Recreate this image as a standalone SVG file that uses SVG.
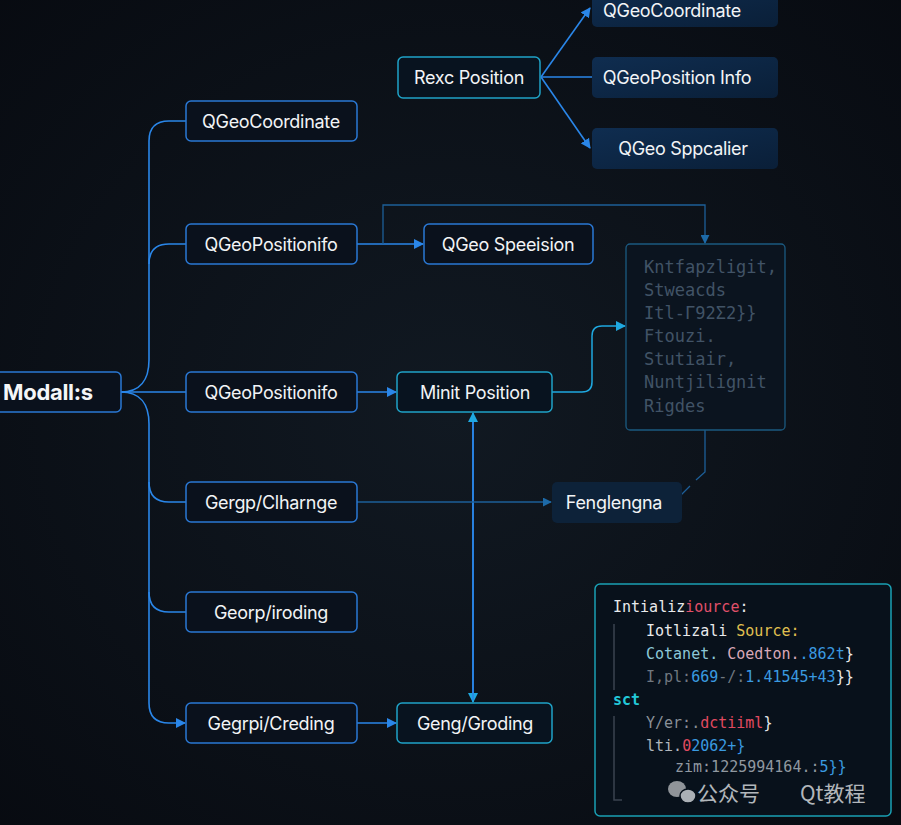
<svg xmlns="http://www.w3.org/2000/svg" width="901" height="825" viewBox="0 0 901 825">
<defs>
<radialGradient id="bg" cx="0.5" cy="0.5" r="0.75">
<stop offset="0" stop-color="#111922"/>
<stop offset="1" stop-color="#070a10"/>
</radialGradient>
<linearGradient id="fillR" x1="0" y1="0" x2="1" y2="1">
<stop offset="0" stop-color="#0f2d50"/>
<stop offset="1" stop-color="#0a1f38"/>
</linearGradient>
<marker id="ab" viewBox="0 0 10 10" refX="9" refY="5" markerWidth="10" markerHeight="10" markerUnits="userSpaceOnUse" orient="auto">
<path d="M0,0 L10,5 L0,10 z" fill="#2a86e8"/>
</marker>
<marker id="ac" viewBox="0 0 10 10" refX="9" refY="5" markerWidth="10" markerHeight="10" markerUnits="userSpaceOnUse" orient="auto">
<path d="M0,0 L10,5 L0,10 z" fill="#1fa8e0"/>
</marker>
<marker id="ad" viewBox="0 0 10 10" refX="9" refY="5" markerWidth="9" markerHeight="9" markerUnits="userSpaceOnUse" orient="auto">
<path d="M0,0 L10,5 L0,10 z" fill="#1d6aa8"/>
</marker>
<style>
.n rect{fill:#0a111c;stroke:#2a78d4;stroke-width:1.5}
.c rect{fill:#08131f;stroke:#1fa3c8;stroke-width:1.5}
.f rect{fill:url(#fillR);stroke:none}
.t{font-family:Inter,"Open Sans",sans-serif;font-size:18px;fill:#f2f4f6;text-anchor:middle;dominant-baseline:central;letter-spacing:-0.3px}
.w{fill:none;stroke:#2a86e8;stroke-width:1.6}
.d{fill:none;stroke:#1d5f98;stroke-width:1.3}
.cy{fill:none;stroke:#1fa8e0;stroke-width:1.5}
.m{font-family:"DejaVu Sans Mono","Liberation Mono",monospace;font-size:15px}
.g{font-family:"DejaVu Sans Mono","Liberation Mono",monospace;font-size:17px;fill:#415366}
</style>
</defs>
<rect width="901" height="825" fill="url(#bg)"/>

<g id="connectors">
<path class="w" d="M121,392 C140,392 149,380 149,360 V141 Q149,121 169,121 H186"/>
<path class="w" d="M149,264 Q149,244 169,244 H186"/>
<path class="w" d="M121,392 H186"/>
<path class="w" d="M121,392 C140,392 149,404 149,424 V703 Q149,723 169,723 H185" marker-end="url(#ab)"/>
<path class="w" d="M149,482 Q149,502 169,502 H186"/>
<path class="w" d="M149,592 Q149,612 169,612 H186"/>
<path class="w" d="M357,244 H423" marker-end="url(#ab)"/>
<path class="d" d="M383,244 V205 H705 V243" marker-end="url(#ad)"/>
<path class="w" d="M357,392 H396" marker-end="url(#ab)"/>
<path class="cy" d="M552,392 H582 Q592,392 592,382 V336 Q592,326 602,326 H625" marker-end="url(#ac)"/>
<path class="w" d="M473,420 V702" stroke="#1f8ee0" marker-end="url(#ac)"/>
<path class="w" d="M473,700 V413" stroke="#1f8ee0" marker-end="url(#ac)"/>
<path class="d" d="M357,502 H551" stroke="#1f6cb8" marker-end="url(#ad)"/>
<path class="w" d="M357,723 H396" marker-end="url(#ab)"/>
<path class="d" d="M705,430 V472 L696,480"/>
<path class="d" d="M690,486 L668,508 M668,508 L670,498"/>
<path class="w" d="M541,77 L590,8" stroke="#1e88d8" marker-end="url(#ab)"/>
<path class="w" d="M541,77 H592" stroke="#1e88d8"/>
<path class="w" d="M541,77 L590,148" stroke="#1e88d8" marker-end="url(#ab)"/>
</g>

<g id="n-modalls" class="n"><rect x="-8" y="372" width="129" height="40" rx="5"/><text x="3" y="392" font-family="Inter,'Open Sans',sans-serif" font-size="22" font-weight="700" fill="#f4f6f8" dominant-baseline="central" letter-spacing="-0.3">Modall:s</text></g>
<g id="n-coord" class="n"><rect x="186" y="101" width="171" height="40" rx="5"/><text class="t" x="271" y="121">QGeoCoordinate</text></g>
<g id="n-pos1" class="n"><rect x="186" y="224" width="171" height="40" rx="5"/><text class="t" x="271" y="244">QGeoPositionifo</text></g>
<g id="n-pos2" class="n"><rect x="186" y="372" width="171" height="40" rx="5"/><text class="t" x="271" y="392">QGeoPositionifo</text></g>
<g id="n-change" class="n"><rect x="186" y="482" width="171" height="40" rx="5"/><text class="t" x="271" y="502">Gergp/Clharnge</text></g>
<g id="n-iroding" class="n"><rect x="186" y="592" width="171" height="40" rx="5"/><text class="t" x="271" y="612">Georp/iroding</text></g>
<g id="n-creding" class="n"><rect x="186" y="703" width="171" height="40" rx="5"/><text class="t" x="271" y="723">Gegrpi/Creding</text></g>
<g id="n-speeision" class="n"><rect x="424" y="224" width="169" height="40" rx="5"/><text class="t" x="508" y="244">QGeo Speeision</text></g>
<g id="n-minit" class="c"><rect x="397" y="372" width="155" height="40" rx="5"/><text class="t" x="475" y="392">Minit Position</text></g>
<g id="n-groding" class="c"><rect x="397" y="703" width="155" height="40" rx="5"/><text class="t" x="475" y="723">Geng/Groding</text></g>
<g id="n-rexc" class="c"><rect x="398" y="57" width="142" height="41" rx="5" stroke="#1d8fb8"/><text class="t" x="469" y="77">Rexc Position</text></g>
<g id="n-coord2" class="f"><rect x="592" y="-14" width="186" height="41" rx="5"/><text class="t" x="672" y="10">QGeoCoordinate</text></g>
<g id="n-posinfo" class="f"><rect x="592" y="57" width="186" height="41" rx="5"/><text class="t" x="677" y="77">QGeoPosition Info</text></g>
<g id="n-sppcalier" class="f"><rect x="592" y="128" width="186" height="41" rx="5"/><text class="t" x="683" y="148">QGeo Sppcalier</text></g>
<g id="n-fenglengna"><rect x="552" y="482" width="130" height="41" rx="5" fill="#0d2239"/><text class="t" x="614" y="502" fill="#c8d0d8">Fenglengna</text></g>

<g id="n-textbox">
<rect x="626" y="244" width="159" height="186" rx="4" fill="#0b141f" stroke="#1b5a80" stroke-width="1.3"/>
<text class="g" x="644" y="273">Kntfapzligit,</text>
<text class="g" x="644" y="296">Stweacds</text>
<text class="g" x="644" y="319">Itl-Γ92Σ2}}</text>
<text class="g" x="644" y="342">Ftouzi.</text>
<text class="g" x="644" y="365">Stutiair,</text>
<text class="g" x="644" y="388">Nuntjilignit</text>
<text class="g" x="644" y="412">Rigdes</text>
</g>

<g id="n-code">
<rect x="595" y="584" width="296" height="232" rx="5" fill="#08111b" stroke="#1aa0b4" stroke-width="1.5"/>
<path d="M614,624 V690 M614,716 V800 H622" stroke="#3a4350" stroke-width="1.5" fill="none"/>
<text class="m" x="613" y="612"><tspan fill="#e8eaec">Intializ</tspan><tspan fill="#e0506a">iource</tspan><tspan fill="#e8eaec">:</tspan></text>
<text class="m" x="646" y="636"><tspan fill="#e8eaec">Iotlizali </tspan><tspan fill="#e0c050">Source:</tspan></text>
<text class="m" x="646" y="659"><tspan fill="#8cc8d8">Cotanet. </tspan><tspan fill="#d8a8b8">Coedton.</tspan><tspan fill="#3a9ae0">.862t</tspan><tspan fill="#e8eaec">}</tspan></text>
<text class="m" x="646" y="682"><tspan fill="#707880">I,pl:</tspan><tspan fill="#3a9ae0">669</tspan><tspan fill="#707880">-/:</tspan><tspan fill="#3a9ae0">1.41545+43</tspan><tspan fill="#e8eaec">}}</tspan></text>
<text class="m" x="613" y="705" fill="#22c8d8" font-weight="700">sct</text>
<text class="m" x="646" y="728"><tspan fill="#8a9098">Y/er:.</tspan><tspan fill="#e04a60">dctiiml</tspan><tspan fill="#e8eaec">}</tspan></text>
<text class="m" x="646" y="751"><tspan fill="#b0b6bc">lti.</tspan><tspan fill="#e04a60">0</tspan><tspan fill="#3a9ae0">2062+}</tspan></text>
<text class="m" x="675" y="772"><tspan fill="#9098a0">zim:1225994164.:</tspan><tspan fill="#3a9ae0">5}}</tspan></text>
</g>

<g id="watermark" opacity="0.85">
<ellipse cx="677" cy="789" rx="9" ry="8" fill="#a8acb0"/>
<ellipse cx="688" cy="796" rx="8" ry="7" fill="#c8ccd0" stroke="#08111b" stroke-width="1.5"/>
<text x="697" y="801" font-family="'Noto Sans CJK SC',sans-serif" font-size="21" fill="#d0d4d8">公众号</text>
<text x="800" y="801" font-family="'Noto Sans CJK SC',sans-serif" font-size="21" fill="#d0d4d8">Qt教程</text>
</g>
</svg>
